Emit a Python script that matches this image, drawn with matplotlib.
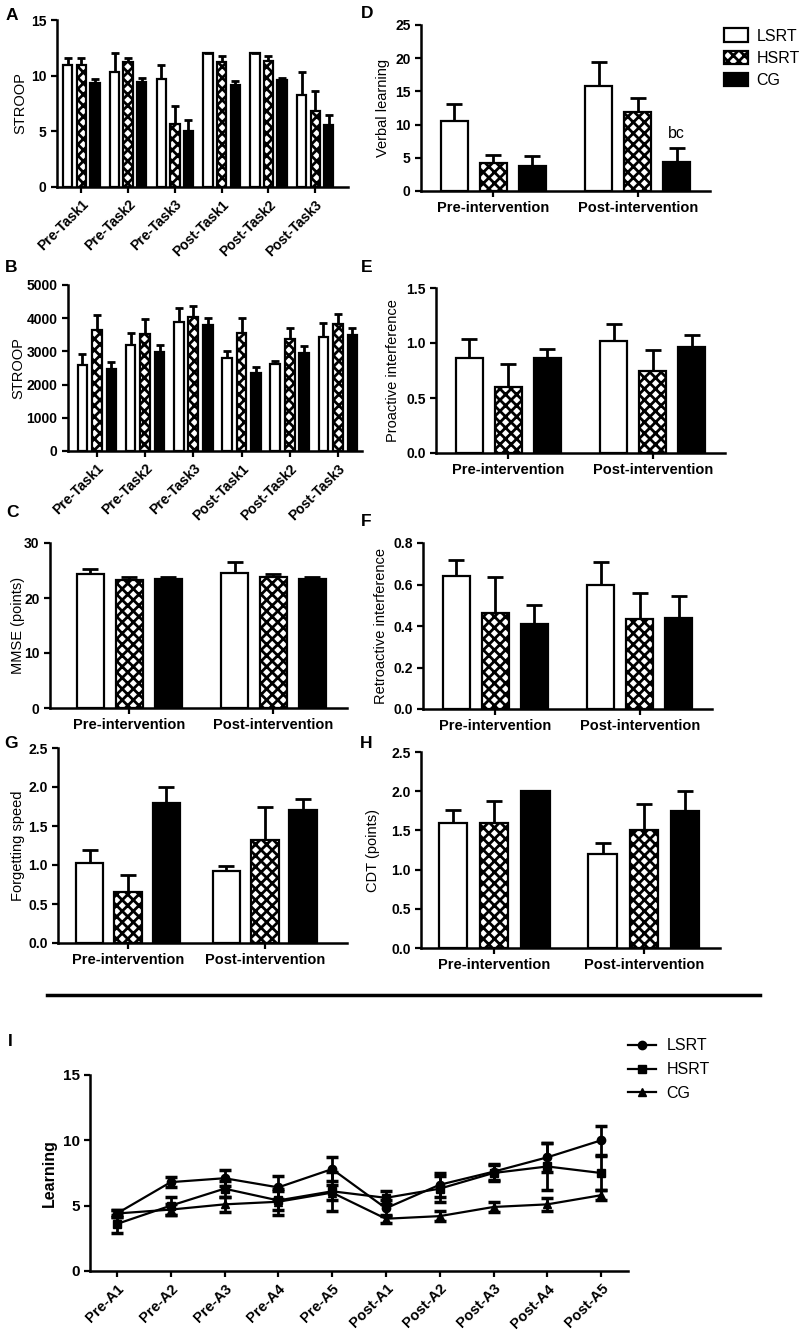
import numpy as np
import matplotlib
matplotlib.use('Agg')
import matplotlib.pyplot as plt
from matplotlib.patches import Patch
from matplotlib.lines import Line2D

plt.rcParams['font.family'] = ['Liberation Sans', 'DejaVu Sans']
plt.rcParams['hatch.linewidth'] = 2.0
plt.rcParams['axes.linewidth'] = 1.8

W, H = 805, 1339

groups = ['LSRT', 'HSRT', 'CG']
tasks = ['Pre-Task1', 'Pre-Task2', 'Pre-Task3', 'Post-Task1', 'Post-Task2', 'Post-Task3']
phases = ['Pre-intervention', 'Post-intervention']
trials = ['Pre-A1', 'Pre-A2', 'Pre-A3', 'Pre-A4', 'Pre-A5',
          'Post-A1', 'Post-A2', 'Post-A3', 'Post-A4', 'Post-A5']

# A - STROOP (score), rows = LSRT, HSRT, CG
a_mean = [[11.0, 10.3, 9.7, 12.0, 12.0, 8.3],
          [11.0, 11.2, 5.7, 11.2, 11.3, 6.8],
          [9.3, 9.4, 5.0, 9.2, 9.6, 5.6]]
a_err = [[0.6, 1.7, 1.3, 0.0, 0.0, 2.0],
         [0.6, 0.4, 1.6, 0.6, 0.5, 1.8],
         [0.4, 0.4, 1.0, 0.3, 0.2, 0.9]]

# B - STROOP (time)
b_mean = [[2580, 3200, 3880, 2790, 2610, 3430],
          [3650, 3530, 4030, 3550, 3380, 3830],
          [2480, 2980, 3800, 2360, 2940, 3490]]
b_err = [[340, 350, 420, 210, 110, 430],
         [440, 450, 350, 470, 320, 300],
         [200, 220, 220, 170, 210, 200]]

# C - MMSE
c_mean = [[24.4, 24.6], [23.3, 23.8], [23.4, 23.4]]
c_err = [[0.8, 2.0], [0.6, 0.6], [0.4, 0.4]]

# D - verbal learning
d_mean = [[10.6, 15.8], [4.2, 11.9], [3.8, 4.4]]
d_err = [[2.5, 3.7], [1.2, 2.1], [1.4, 2.1]]

# E - proactive interference
e_mean = [[0.86, 1.02], [0.60, 0.75], [0.86, 0.96]]
e_err = [[0.18, 0.15], [0.21, 0.19], [0.09, 0.11]]

# F - retroactive interference
f_mean = [[0.64, 0.60], [0.465, 0.435], [0.41, 0.44]]
f_err = [[0.08, 0.11], [0.17, 0.125], [0.09, 0.105]]

# G - forgetting speed
g_mean = [[1.02, 0.92], [0.65, 1.32], [1.80, 1.70]]
g_err = [[0.17, 0.07], [0.22, 0.43], [0.20, 0.15]]

# H - CDT
h_mean = [[1.60, 1.20], [1.60, 1.50], [2.00, 1.75]]
h_err = [[0.16, 0.14], [0.27, 0.34], [0.0, 0.25]]

# I - learning over trials
i_lsrt = [4.4, 6.8, 7.1, 6.4, 7.8, 4.8, 6.6, 7.6, 8.7, 10.0]
i_lsrt_err = [0.3, 0.4, 0.6, 0.9, 0.9, 0.6, 0.9, 0.6, 1.1, 1.1]
i_hsrt = [3.6, 5.0, 6.3, 5.4, 6.1, 5.6, 6.3, 7.5, 8.0, 7.5]
i_hsrt_err = [0.7, 0.7, 0.6, 0.7, 1.5, 0.5, 1.0, 0.6, 1.8, 1.3]
i_cg = [4.4, 4.7, 5.1, 5.3, 6.0, 4.0, 4.2, 4.9, 5.1, 5.8]
i_cg_err = [0.3, 0.4, 0.6, 1.0, 0.6, 0.3, 0.4, 0.4, 0.5, 0.4]

fig = plt.figure(figsize=(W / 100, H / 100), dpi=100)


def px_axes(x0, y0, x1, y1):
    return fig.add_axes([x0 / W, 1 - y1 / H, (x1 - x0) / W, (y1 - y0) / H])


def style_axes(ax, label_right_px, ax_left_px, ax_w_px):
    for s in ['top', 'right']:
        ax.spines[s].set_visible(False)
    ax.tick_params(direction='out', length=4, width=1.6)
    ax.yaxis.set_label_coords((label_right_px - ax_left_px) / ax_w_px, 0.5)


bar_styles = [dict(facecolor='white', hatch=None),
              dict(facecolor='white', hatch='xxx'),
              dict(facecolor='black', hatch=None)]


def bar_panel(box, means, errs, labels, ylim, yticks, ylabel, label_right,
              width, offset, capsize, xlim, rotate=False, ticklabels=None):
    x0, y0, x1, y1 = box
    ax = px_axes(x0, y0, x1, y1)
    x = np.arange(len(labels))
    for i in range(3):
        xs = x + (i - 1) * offset
        ax.bar(xs, means[i], width, edgecolor='black', linewidth=1.6,
               zorder=2, **bar_styles[i])
        eb = ax.errorbar(xs, means[i], yerr=[np.zeros(len(x)), errs[i]],
                         fmt='none', ecolor='black', elinewidth=2,
                         capsize=capsize, capthick=2, zorder=3)
        eb[1][0].set_visible(False)
    ax.set_xlim(*xlim)
    ax.set_ylim(*ylim)
    ax.set_yticks(yticks)
    if ticklabels is not None:
        ax.set_yticklabels(ticklabels)
    ax.set_xticks(x)
    if rotate:
        ax.set_xticklabels(labels, rotation=45, ha='right',
                           rotation_mode='anchor', fontsize=10, fontweight='bold')
    else:
        ax.set_xticklabels(labels, fontsize=10.5, fontweight='bold')
    for t in ax.get_yticklabels():
        t.set_fontweight('bold')
        t.set_fontsize(10)
    ax.set_ylabel(ylabel, fontsize=10.5)
    style_axes(ax, label_right, x0, x1 - x0)
    return ax


axA = bar_panel((57, 20, 348, 187), a_mean, a_err, tasks, (0, 15), [0, 5, 10, 15],
                'STROOP', 27, 0.2, 0.29, 3, (-0.52, 5.7), rotate=True)
axB = bar_panel((68, 285, 362, 451), b_mean, b_err, tasks, (0, 5000),
                [0, 1000, 2000, 3000, 4000, 5000], 'STROOP', 25, 0.2, 0.3, 3,
                (-0.6, 5.5), rotate=True)
axC = bar_panel((50, 543, 347, 708), c_mean, c_err, phases, (0, 30), [0, 10, 20, 30],
                'MMSE (points)', 25, 0.19, 0.27, 6, (-0.55, 1.51))
axD = bar_panel((421, 25, 710, 191), d_mean, d_err, phases, (0, 25),
                [0, 5, 10, 15, 20, 25], 'Verbal learning', 390, 0.19, 0.27, 6,
                (-0.5, 1.5))
axE = bar_panel((436, 288, 725, 453), e_mean, e_err, phases, (0, 1.5),
                [0, 0.5, 1.0, 1.5], 'Proactive interference', 400, 0.19, 0.27, 6,
                (-0.5, 1.5), ticklabels=['0.0', '0.5', '1.0', '1.5'])
axF = bar_panel((423, 543, 712, 709), f_mean, f_err, phases, (0, 0.8),
                [0, 0.2, 0.4, 0.6, 0.8], 'Retroactive interference', 388, 0.19, 0.27, 6,
                (-0.5, 1.5), ticklabels=['0.0', '0.2', '0.4', '0.6', '0.8'])
axG = bar_panel((58, 748, 347, 943), g_mean, g_err, phases, (0, 2.5),
                [0, 0.5, 1.0, 1.5, 2.0, 2.5], 'Forgetting speed', 25, 0.2, 0.28, 6,
                (-0.51, 1.6), ticklabels=['0.0', '0.5', '1.0', '1.5', '2.0', '2.5'])
axH = bar_panel((421, 752, 720, 948), h_mean, h_err, phases, (0, 2.5),
                [0, 0.5, 1.0, 1.5, 2.0, 2.5], 'CDT (points)', 380, 0.19, 0.275, 6,
                (-0.49, 1.51), ticklabels=['0.0', '0.5', '1.0', '1.5', '2.0', '2.5'])

axD.text(1 + 0.27, d_mean[2][1] + d_err[2][1] + 1.0, 'bc', ha='center',
         va='bottom', fontsize=11.5)

axD.legend([Patch(facecolor='white', edgecolor='black', linewidth=1.6),
            Patch(facecolor='white', edgecolor='black', hatch='xxx', linewidth=1.6),
            Patch(facecolor='black', edgecolor='black', linewidth=1.6)],
           groups, loc='upper left', bbox_to_anchor=(718 / W, 1 - 22 / H),
           bbox_transform=fig.transFigure, frameon=False, fontsize=11.5,
           handlelength=1.5, handleheight=0.9, labelspacing=0.45,
           handletextpad=0.5, borderaxespad=0)

# panel I
axI = px_axes(90, 1075, 628, 1271)
xi = np.arange(len(trials))
for vals, errs, mk in [(i_lsrt, i_lsrt_err, 'o'), (i_hsrt, i_hsrt_err, 's'),
                       (i_cg, i_cg_err, '^')]:
    axI.errorbar(xi, vals, yerr=errs, color='black', marker=mk, markersize=6,
                 linewidth=1.6, elinewidth=2, capsize=4, capthick=2.5)
axI.set_xlim(-0.5, 9.5)
axI.set_ylim(0, 15)
axI.set_yticks([0, 5, 10, 15])
axI.set_xticks(xi)
axI.set_xticklabels(trials, rotation=45, ha='right', rotation_mode='anchor',
                    fontsize=10.5, fontweight='bold')
for t in axI.get_yticklabels():
    t.set_fontsize(11)
    t.set_fontweight('bold')
axI.set_ylabel('Learning', fontsize=11.5, fontweight='bold')
style_axes(axI, 57, 90, 538)

handlesI = [Line2D([], [], color='black', marker=m, markersize=6, linewidth=1.6)
            for m in ['o', 's', '^']]
fig.legend(handlesI, groups, loc='upper left', bbox_to_anchor=(622 / W, 1 - 1032 / H),
           frameon=False, fontsize=11.5, handlelength=1.7, labelspacing=0.55,
           handletextpad=0.7, borderaxespad=0)

# separator line between the two parts
fig.add_artist(Line2D([47 / W, 760 / W], [1 - 995 / H, 1 - 995 / H],
                      color='black', linewidth=2.5))

# panel letters
for letter, (px, py) in {'A': (12, 15), 'B': (11, 268), 'C': (12, 513),
                         'D': (367, 13), 'E': (367, 268), 'F': (366, 521),
                         'G': (11, 743), 'H': (366, 743), 'I': (10, 1041)}.items():
    fig.text(px / W, 1 - py / H, letter, fontsize=12.5, fontweight='bold',
             ha='center', va='center')

fig.savefig('out.png', dpi=100)
